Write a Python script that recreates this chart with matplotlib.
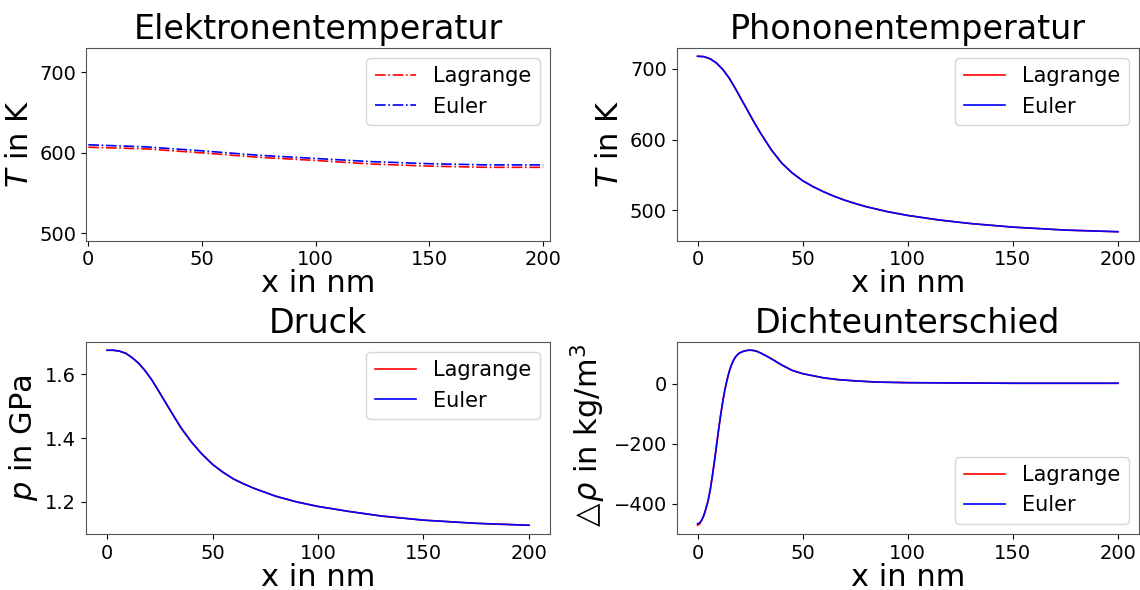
import numpy as np
import matplotlib
matplotlib.use('Agg')
import matplotlib.pyplot as plt

# electron temperature
x_el = [0, 25, 50, 75, 100, 125, 150, 175, 200]
Te_lagrange = [607, 605, 600, 594.5, 590.5, 586, 583.5, 582, 582]
Te_euler = [610, 607.5, 602.5, 597, 593, 589, 586.5, 585, 585]

# phonon temperature
x_ph = [0, 3, 6, 9, 12, 15, 18, 21, 24, 27, 30, 35, 40, 45, 50, 55, 60,
        65, 70, 75, 80, 90, 100, 115, 130, 150, 175, 200]
Tph_lagrange = [717.5, 717, 714, 708, 699, 687, 672, 656, 640, 624, 609,
                586, 567, 553, 542, 533.5, 526.3, 520, 514.5, 509.8, 505.5,
                498.5, 493, 486.5, 481.5, 476.5, 472.3, 470]
Tph_euler = Tph_lagrange

# pressure
x_p = [0, 3, 6, 9, 12, 15, 18, 21, 24, 27, 30, 35, 40, 45, 50, 55, 60,
       65, 70, 80, 90, 100, 115, 130, 150, 175, 200]
p_lagrange = [1.676, 1.676, 1.673, 1.666, 1.652, 1.635, 1.612, 1.585,
              1.553, 1.520, 1.487, 1.433, 1.388, 1.350, 1.318, 1.293,
              1.272, 1.256, 1.242, 1.218, 1.200, 1.186, 1.170, 1.156,
              1.143, 1.133, 1.127]
p_euler = p_lagrange

# density difference
x_rho = [0, 1, 2, 3, 4, 5, 6, 7, 8, 9, 10, 11, 12, 13, 14, 15, 16, 17, 18,
         19, 20, 22, 24, 26, 28, 30, 33, 36, 40, 45, 50, 55, 60, 67, 75, 85,
         100, 125, 150, 175, 200]
drho_euler = [-466, -463, -454, -438, -416, -390, -355, -310, -260, -207,
              -154, -104, -59, -20, 12, 39, 61, 77, 89, 97, 103, 109, 112,
              112, 109, 103, 92, 80, 63, 45, 34, 27, 20, 14, 10, 6, 4, 3,
              2, 2, 2]
drho_lagrange = [-471, -467, -454, -438, -416, -390, -355, -310, -260, -207,
                 -154, -104, -59, -20, 12, 39, 61, 77, 89, 97, 103, 109, 112,
                 112, 109, 103, 92, 80, 63, 45, 34, 27, 20, 14, 10, 6, 4, 3,
                 2, 2, 2]

W, H = 1140, 590
fig = plt.figure(figsize=(W / 100, H / 100), dpi=100)


def box(l, t, r, b):
    return [l / W, 1 - b / H, (r - l) / W, (b - t) / H]


ax1 = fig.add_axes(box(86, 47.5, 550, 240.5))
ax2 = fig.add_axes(box(676.5, 47.5, 1139, 240.5))
ax3 = fig.add_axes(box(86, 341.5, 550, 534))
ax4 = fig.add_axes(box(676.5, 341.5, 1139, 534))

kw = dict(lw=1.2)

ax1.plot(x_el, Te_lagrange, '-.', color='red', label='Lagrange', **kw)
ax1.plot(x_el, Te_euler, '-.', color='blue', label='Euler', **kw)
ax1.set_xlim(-1, 203)
ax1.set_ylim(491, 731)
ax1.set_title('Elektronentemperatur', fontsize=24)
ax1.set_ylabel('$T$ in K', fontsize=22)

ax2.plot(x_ph, Tph_lagrange, color='red', label='Lagrange', **kw)
ax2.plot(x_ph, Tph_euler, color='blue', label='Euler', **kw)
ax2.set_title('Phononentemperatur', fontsize=24)
ax2.set_ylabel('$T$ in K', fontsize=22)

ax3.plot(x_p, p_lagrange, color='red', label='Lagrange', **kw)
ax3.plot(x_p, p_euler, color='blue', label='Euler', **kw)
ax3.set_title('Druck', fontsize=24)
ax3.set_ylabel('$p$ in GPa', fontsize=22)

ax4.plot(x_rho, drho_lagrange, color='red', label='Lagrange', **kw)
ax4.plot(x_rho, drho_euler, color='blue', label='Euler', **kw)
ax4.set_title('Dichteunterschied', fontsize=24)
ax4.set_ylabel(r'$\triangle\!\rho$ in kg/m$^3$', fontsize=22)

for ax in [ax1, ax2, ax3, ax4]:
    ax.set_xlabel('x in nm', fontsize=22, labelpad=0)
    ax.tick_params(labelsize=14)
    for s in ax.spines.values():
        s.set_color('#555555')
ax1.legend(fontsize=15, loc='upper right')
ax2.legend(fontsize=15, loc='upper right')
ax3.legend(fontsize=15, loc='upper right')
ax4.legend(fontsize=15, loc='lower right')

fig.savefig('out.png', dpi=100)
